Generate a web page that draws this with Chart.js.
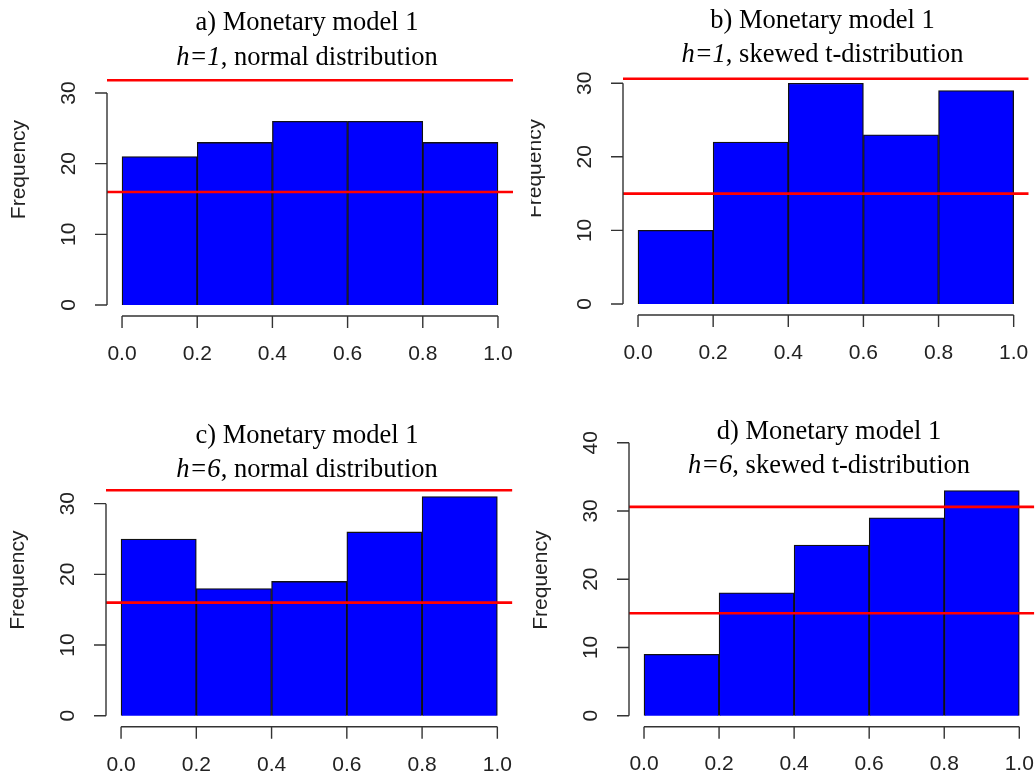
<!DOCTYPE html>
<html>
<head>
<meta charset="utf-8">
<script src="https://cdn.jsdelivr.net/npm/chart.js@4.4.1/dist/chart.umd.min.js"></script>
<style>
  body { margin: 0; background: #fff; width: 1036px; height: 778px; position: relative; overflow: hidden; }
  .panel { position: absolute; }
  .title {
    position: absolute; width: 440px; text-align: center; white-space: nowrap;
    font-family: 'Liberation Serif', 'Times New Roman', serif; font-size: 26.5px; line-height: 34.5px; color: #000;
  }
</style>
</head>
<body>
<div class="panel" style="left:0;top:0;width:518px;height:389px"><canvas id="chartA"></canvas></div>
<div class="panel" style="left:531px;top:0;width:505px;height:389px"><canvas id="chartB"></canvas></div>
<div class="panel" style="left:0;top:389px;width:518px;height:389px"><canvas id="chartC"></canvas></div>
<div class="panel" style="left:518px;top:389px;width:518px;height:389px"><canvas id="chartD"></canvas></div>

<div class="title" style="left:87px;top:4px">a) Monetary model 1<br><i>h=1</i>, normal distribution</div>
<div class="title" style="left:602.5px;top:1.6px">b) Monetary model 1<br><i>h=1</i>, skewed t-distribution</div>
<div class="title" style="left:87px;top:416.6px">c) Monetary model 1<br><i>h=6</i>, normal distribution</div>
<div class="title" style="left:609px;top:412.6px">d) Monetary model 1<br><i>h=6</i>, skewed t-distribution</div>

<script>
// Histogram data (bins of width 0.2 on [0, 1])
const binCenters = [0.1, 0.3, 0.5, 0.7, 0.9];
const xTicks = [0, 0.2, 0.4, 0.6, 0.8, 1.0];
const xTickLabels = ['0.0', '0.2', '0.4', '0.6', '0.8', '1.0'];

const countsA = [21, 23, 26, 26, 23];
const countsB = [10, 22, 30, 23, 29];
const countsC = [25, 18, 19, 26, 31];
const countsD = [9, 18, 25, 29, 33];

// red reference lines (lower / upper bound)
const linesA = [16, 31.8];
const linesB = [15, 30.6];
const linesC = [16, 31.9];
const linesD = [15, 30.6];

const yTicks30 = [0, 10, 20, 30];
const yTicks40 = [0, 10, 20, 30, 40];

// x range padded like R's plot region
const X_MIN = -0.04;
const X_MAX = 1.04;

// R-style detached axes
const rAxes = {
    id: 'rAxes',
    afterDraw(chart, args, opts) {
        const { ctx, chartArea, scales: { x, y } } = chart;
        const y0 = y.getPixelForValue(0);
        const ax = chartArea.left;
        const ay = y0 + 11;

        ctx.save();
        ctx.strokeStyle = '#333';
        ctx.lineWidth = 1.4;
        ctx.beginPath();
        ctx.moveTo(ax, y0);
        ctx.lineTo(ax, y.getPixelForValue(opts.yTicks[opts.yTicks.length - 1]));
        opts.yTicks.forEach(v => {
            const py = y.getPixelForValue(v);
            ctx.moveTo(ax, py);
            ctx.lineTo(ax - 12, py);
        });
        ctx.moveTo(x.getPixelForValue(xTicks[0]), ay);
        ctx.lineTo(x.getPixelForValue(xTicks[xTicks.length - 1]), ay);
        xTicks.forEach(v => {
            const px = x.getPixelForValue(v);
            ctx.moveTo(px, ay);
            ctx.lineTo(px, ay + 12);
        });
        ctx.stroke();

        ctx.fillStyle = '#222';
        ctx.font = '21px "Liberation Sans", Arial, sans-serif';
        ctx.textAlign = 'center';
        ctx.textBaseline = 'middle';
        xTicks.forEach((v, i) => {
            ctx.fillText(xTickLabels[i], x.getPixelForValue(v), ay + 38);
        });
        opts.yTicks.forEach(v => {
            ctx.save();
            ctx.translate(ax - 38, y.getPixelForValue(v));
            ctx.rotate(-Math.PI / 2);
            ctx.fillText(String(v), 0, 0);
            ctx.restore();
        });

        ctx.save();
        ctx.translate(ax - 82, y0 - 135.5);
        ctx.rotate(-Math.PI / 2);
        ctx.textBaseline = 'alphabetic';
        ctx.fillText('Frequency', 0, 0);
        ctx.restore();
        ctx.restore();
    }
};

function createHistogram(id, counts, lines, yTicks, yMin, yMax, padding) {
    const ctx = document.getElementById(id).getContext('2d');

    const lineSets = lines.map(v => ({
        type: 'line',
        data: [{ x: X_MIN, y: v }, { x: X_MAX, y: v }],
        borderColor: '#ff0000',
        borderWidth: 2.6,
        pointRadius: 0,
        order: 0
    }));

    return new Chart(ctx, {
        type: 'bar',
        data: {
            datasets: [{
                type: 'bar',
                data: binCenters.map((c, i) => ({ x: c, y: counts[i] })),
                backgroundColor: '#0000ff',
                borderColor: '#111',
                borderWidth: 1.3,
                barPercentage: 1,
                categoryPercentage: 1,
                order: 1
            }, ...lineSets]
        },
        options: {
            responsive: true,
            maintainAspectRatio: false,
            animation: false,
            events: [],
            layout: { padding: padding },
            scales: {
                x: {
                    type: 'linear',
                    min: X_MIN,
                    max: X_MAX,
                    offset: false,
                    display: false,
                    afterBuildTicks: scale => {
                        scale.ticks = xTicks.map(v => ({ value: v }));
                    }
                },
                y: {
                    type: 'linear',
                    min: yMin,
                    max: yMax,
                    display: false
                }
            },
            plugins: {
                legend: { display: false },
                tooltip: { enabled: false },
                rAxes: { yTicks: yTicks }
            }
        },
        plugins: [rAxes]
    });
}

createHistogram('chartA', countsA, linesA, yTicks30, -1.2, 34, { left: 107, right: 5, top: 64.7, bottom: 75.5 });
createHistogram('chartB', countsB, linesB, yTicks30, -1.2, 34, { left: 92, right: 7.3, top: 53.8, bottom: 76.2 });
createHistogram('chartC', countsC, linesC, yTicks30, -1.2, 34, { left: 106, right: 5.6, top: 86.4, bottom: 53.8 });
createHistogram('chartD', countsD, linesD, yTicks40, -1.6, 44, { left: 111, right: 1.7, top: 26.4, bottom: 51.4 });
</script>
</body>
</html>
